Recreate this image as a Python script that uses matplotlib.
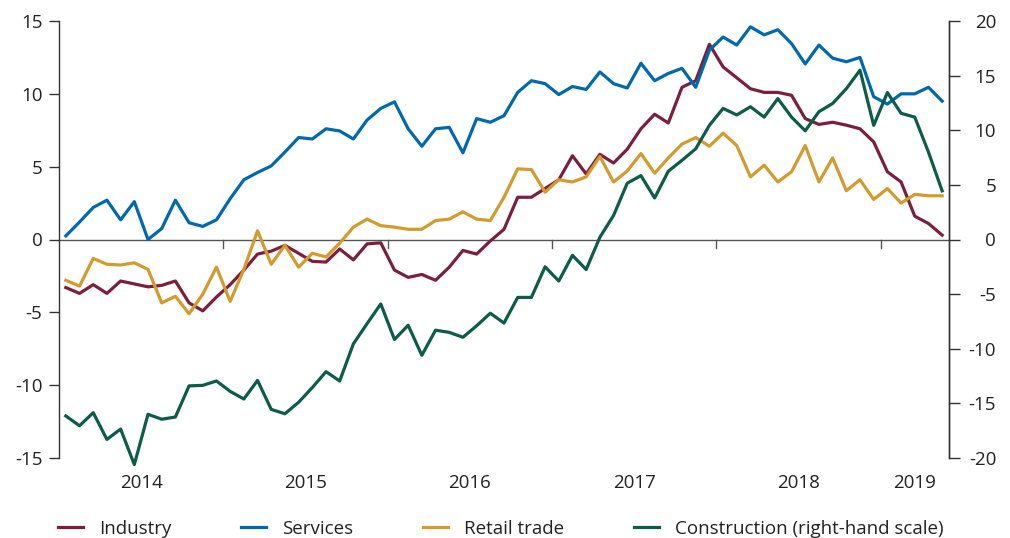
import matplotlib
matplotlib.use("Agg")
import matplotlib.pyplot as plt
import numpy as np

plt.rcParams['font.family'] = ['Open Sans', 'DejaVu Sans']
plt.rcParams['axes.unicode_minus'] = False

# monthly data, Jan 2014 - May 2019
years = ['2014', '2015', '2016', '2017', '2018', '2019']
n_months = 65

industry = [-3.3, -3.7, -3.1, -3.7, -2.85, -3.05, -3.25, -3.15, -2.85, -4.35,
            -4.9, -3.95, -3.1, -2.1, -1.0, -0.8, -0.4, -0.95, -1.5, -1.55,
            -0.65, -1.4, -0.3, -0.23, -2.1, -2.6, -2.4, -2.8, -1.9, -0.75,
            -1.0, -0.1, 0.7, 2.9, 2.9, 3.5, 4.1, 5.75, 4.5, 5.85,
            5.25, 6.2, 7.6, 8.6, 8.0, 10.45, 10.9, 13.4, 11.85, 11.1,
            10.35, 10.1, 10.1, 9.9, 8.3, 7.9, 8.05, 7.85, 7.6, 6.7,
            4.65, 3.95, 1.6, 1.1, 0.3]

services = [0.25, 1.2, 2.2, 2.7, 1.35, 2.6, 0.0, 0.75, 2.7, 1.15,
            0.9, 1.35, 2.8, 4.1, 4.6, 5.05, 6.0, 7.0, 6.9, 7.6,
            7.45, 6.9, 8.2, 9.0, 9.45, 7.6, 6.4, 7.6, 7.7, 5.95,
            8.3, 8.05, 8.5, 10.1, 10.9, 10.7, 9.95, 10.5, 10.3, 11.5,
            10.7, 10.4, 12.1, 10.9, 11.4, 11.75, 10.45, 13.0, 13.9, 13.35,
            14.6, 14.05, 14.4, 13.45, 12.05, 13.35, 12.45, 12.2, 12.5, 9.8,
            9.3, 10.0, 10.0, 10.45, 9.5]

retail = [-2.8, -3.2, -1.3, -1.7, -1.75, -1.6, -2.05, -4.35, -3.9, -5.1,
          -3.75, -1.9, -4.25, -2.05, 0.6, -1.7, -0.4, -1.9, -0.95, -1.2,
          -0.25, 0.85, 1.4, 0.95, 0.85, 0.7, 0.7, 1.3, 1.4, 1.9,
          1.4, 1.3, 2.9, 4.85, 4.8, 3.25, 4.1, 3.95, 4.3, 5.7,
          3.95, 4.7, 5.9, 4.55, 5.6, 6.55, 7.0, 6.4, 7.3, 6.45,
          4.3, 5.1, 3.95, 4.65, 6.45, 3.95, 5.6, 3.35, 4.1, 2.75,
          3.5, 2.5, 3.1, 3.0, 3.0]

construction = [-16.15, -17.05, -15.85, -18.3, -17.35, -20.6, -16.0, -16.45, -16.25, -13.4,
                -13.35, -12.95, -13.9, -14.6, -12.9, -15.55, -15.95, -14.9, -13.55, -12.1,
                -12.95, -9.55, -7.7, -5.9, -9.15, -7.85, -10.6, -8.3, -8.5, -8.95,
                -7.9, -6.75, -7.65, -5.3, -5.3, -2.5, -3.8, -1.45, -2.75, 0.2,
                2.2, 5.15, 5.85, 3.8, 6.25, 7.25, 8.3, 10.45, 12.0, 11.4,
                12.15, 11.2, 12.9, 11.2, 9.95, 11.7, 12.45, 13.8, 15.5, 10.45,
                13.45, 11.55, 11.2, 8.0, 4.45]

c_ind = '#7b1f3e'
c_ser = '#0069ad'
c_ret = '#d39a2e'
c_con = '#0d5b49'
txt = '#222222'
axc = '#333333'

x = np.arange(n_months) + 0.5

fig = plt.figure(figsize=(10.1, 5.38), dpi=100)
ax = fig.add_axes([59/1010, 1-458/538, 890/1010, 437/538])
ax2 = ax.twinx()

lw = 2.3
l1, = ax.plot(x, industry, color=c_ind, lw=lw, zorder=3, label='Industry')
l2, = ax.plot(x, services, color=c_ser, lw=lw, zorder=3, label='Services')
l3, = ax.plot(x, retail, color=c_ret, lw=lw, zorder=3, label='Retail trade')
l4, = ax2.plot(x, construction, color=c_con, lw=lw, zorder=3, clip_on=False,
               label='Construction (right-hand scale)')

ax.set_xlim(0, n_months)
ax.set_ylim(-15, 15)
ax2.set_ylim(-20, 20)
ax.set_yticks([-15, -10, -5, 0, 5, 10, 15])
ax2.set_yticks([-20, -15, -10, -5, 0, 5, 10, 15, 20])

for a in (ax, ax2):
    a.spines['top'].set_visible(False)
    a.spines['bottom'].set_visible(False)
    a.spines['left'].set_color(axc)
    a.spines['right'].set_color(axc)
    a.spines['left'].set_linewidth(1)
    a.spines['right'].set_linewidth(1)
ax2.spines['left'].set_visible(False)

ax.tick_params(axis='y', direction='out', length=7, width=1, color=axc,
               labelsize=13.5, labelcolor=txt, pad=5)
ax2.tick_params(axis='y', direction='out', length=8, width=1, color=axc,
                labelsize=13.5, labelcolor=txt, pad=26)
for lab in ax2.get_yticklabels():
    lab.set_horizontalalignment('right')

# zero line with year ticks
ax.axhline(0, color='#555555', lw=1, zorder=2)
ax.set_xticks([])
for b in range(12, n_months, 12):
    ax.plot([b, b], [0, -0.6], color='#555555', lw=1, zorder=2)

# year labels at the middle of each (visible) year
for k, yr in enumerate(years):
    lo = 12*k
    hi = min(12*(k+1), n_months)
    ax.text((lo+hi)/2, -0.058, yr, transform=ax.get_xaxis_transform(),
            ha='center', va='center', fontsize=13.5, color=txt)

leg = fig.legend(handles=[l1, l2, l3, l4], loc='center left', ncol=4,
                 bbox_to_anchor=(58/1010, 1-529/538), frameon=False,
                 fontsize=13.5, handlelength=1.35, handletextpad=0.85,
                 columnspacing=3.7, borderpad=0, borderaxespad=0)
for t in leg.get_texts():
    t.set_color(txt)

fig.savefig('out.png', dpi=100)
